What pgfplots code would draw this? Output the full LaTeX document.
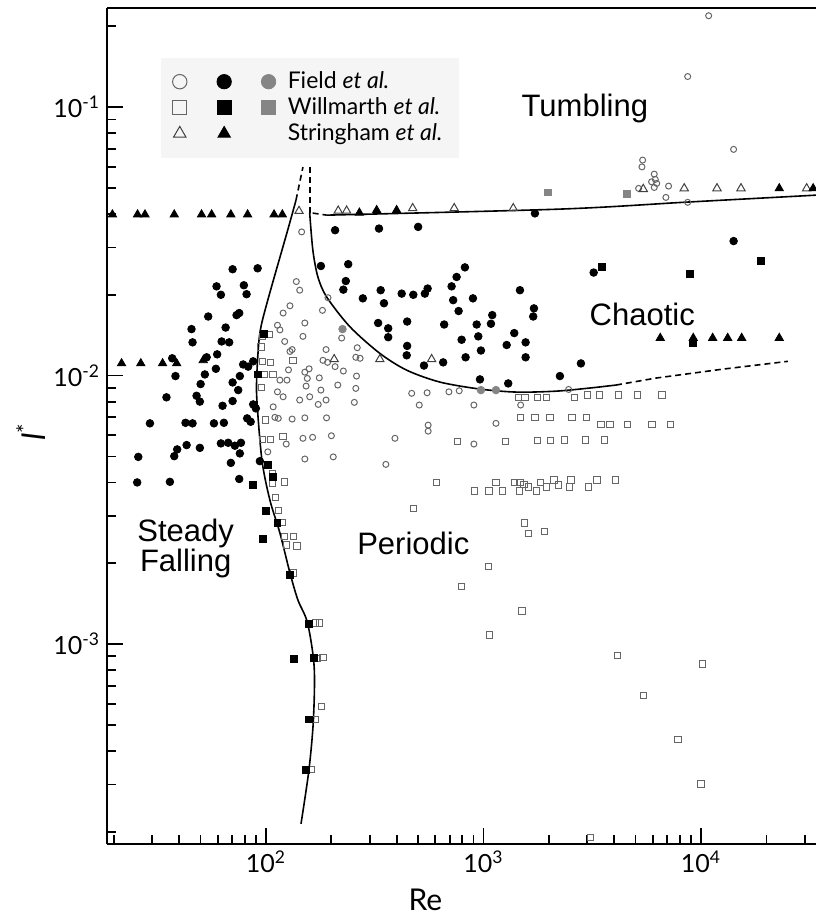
\documentclass[border=0pt]{standalone}
\usepackage{fontspec}
\setmainfont{Lato}
\newfontfamily\helv{Liberation Sans}
\usepackage{pgfplots}
\pgfplotsset{compat=1.18}

\definecolor{opengray}{gray}{0.40}
\definecolor{fillgray}{gray}{0.52}

\begin{document}
\begin{tikzpicture}
\begin{axis}[
    scale only axis,
    width=354.5pt, height=418pt,
    xmode=log, ymode=log,
    xmin=18.6, xmax=33800,
    ymin=1.8e-4, ymax=0.234,
    clip=false,
    axis x line*=bottom, axis y line*=left,
    axis line style={-, line width=1pt},
    tick align=inside,
    major tick length=8pt, minor tick length=4.5pt,
    tick style={black, line width=0.9pt},
    xtick={100,1000,10000},
    xticklabels={10\textsuperscript{2},10\textsuperscript{3},10\textsuperscript{4}},
    minor xtick={20,30,40,50,60,70,80,90,200,300,400,500,600,700,800,900,
        2000,3000,4000,5000,6000,7000,8000,9000,20000,30000},
    ytick={1e-3,1e-2,1e-1},
    yticklabels={10\textsuperscript{-3},10\textsuperscript{-2},10\textsuperscript{-1}},
    minor ytick={2e-4,3e-4,4e-4,5e-4,6e-4,7e-4,8e-4,9e-4,
        2e-3,3e-3,4e-3,5e-3,6e-3,7e-3,8e-3,9e-3,
        2e-2,3e-2,4e-2,5e-2,6e-2,7e-2,8e-2,9e-2,0.2},
    tick label style={font=\fontsize{12.5}{14}\selectfont},
    xlabel={Re},
    ylabel={\textit{l}\textsuperscript{*}},
    every axis x label/.style={at={(rel axis cs:0.449,0)}, yshift=-28pt,
        anchor=center, font=\fontsize{15}{17}\selectfont},
    every axis y label/.style={at={(rel axis cs:0,0.493)}, xshift=-38pt,
        rotate=90, anchor=center, font=\fontsize{16}{18}\selectfont},
    legend columns=3,
    legend image code/.code={\draw[#1, mark size=3.6pt] plot coordinates {(0cm,0cm)};},
    legend style={at={(0.075,0.941)}, anchor=north west,
        draw=none, fill=black!4, inner xsep=6pt, inner ysep=5pt,
        font=\fontsize{11.5}{13}\selectfont,
        nodes={inner sep=2pt},
        row sep=-1pt,
        /tikz/every odd column/.append style={column sep=4pt},
        /tikz/every even column/.append style={column sep=7pt}},
    legend cell align=left,
]

% regime boundaries
\addplot[black, line width=0.8pt, smooth, forget plot] coordinates {
    (145,2.14e-4) (157.7,3.40e-4) (165.3,5.21e-4) (166.7,8.21e-4)
    (155.4,1.197e-3) (140.3,1.46e-3) (129,1.84e-3) (116,2.59e-3)
    (104.3,3.44e-3) (95.9,4.84e-3) (90.9,8.1e-3) (90.9,1.02e-2)
    (93.8,1.44e-2) (102,1.91e-2) (124.9,3.40e-2) (137.5,4.50e-2)
};
\addplot[black, line width=0.8pt, dash pattern=on 3pt off 2pt, forget plot] coordinates {
    (137.5,0.045) (148,0.0598)
};
\addplot[black, line width=0.8pt, dash pattern=on 3pt off 2pt, forget plot] coordinates {
    (159,0.0598) (159,0.0403)
};
\addplot[black, line width=0.8pt, smooth, forget plot] coordinates {
    (159,0.0403) (164.4,0.0293) (173.4,0.0233) (190.5,0.0196) (243.4,0.0152)
    (334,0.0121) (444.6,0.01047) (630.6,0.00946) (963,0.00891) (1426,0.00868)
    (2153,0.00875) (3053,0.00898) (4066,0.00922)
};
\addplot[black, line width=0.8pt, dash pattern=on 3pt off 2pt, forget plot] coordinates {
    (4066,0.00922) (6209,0.00979) (12620,0.01057) (25100,0.0113)
};
\addplot[black, line width=0.8pt, dash pattern=on 3pt off 2pt, forget plot] coordinates {
    (164,0.0403) (190.5,0.0396)
};
\addplot[black, line width=0.8pt, smooth, forget plot] coordinates {
    (190.5,0.0396) (2249,0.0417) (8710,0.0443) (33800,0.047)
};

% Field et al., open
\addplot[only marks, mark=o, mark size=1.5pt, draw=opengray, line width=0.5pt] coordinates {
    (10850,0.219) (8690,0.130) (14130,0.0696) (5395,0.0635) (5355,0.0599)
    (6100,0.0563) (6170,0.0538) (5930,0.0527) (6260,0.0520) (6100,0.0502)
    (7100,0.0508) (5170,0.0498) (6900,0.0461) (8690,0.0442) (146,0.0343)
    (138,0.0224) (143,0.0208) (120,0.0171) (129,0.0182) (113,0.0154)
    (116,0.0148) (122,0.0134) (129,0.0123) (132,0.0125) (127,0.0105)
    (116,0.00962) (125,0.00962) (113,0.0087) (120,0.00834) (108,0.00765)
    (110,0.00699) (114,0.00693) (132,0.00689) (124,0.00556) (102,0.0052)
    (151,0.0157) (148,0.0140) (182,0.0175) (223,0.0138) (189,0.0125)
    (263,0.0127) (183,0.0114) (192,0.0112) (208,0.0108) (227,0.0104)
    (259,0.0117) (271,0.0116) (151,0.0103) (158,0.0106) (155,0.00976)
    (176,0.00981) (153,0.00914) (261,0.00996) (214,0.00922) (179,0.00883)
    (259,0.00896) (159,0.00834) (143,0.00811) (189,0.00811) (174,0.00781)
    (255,0.00795) (151,0.00696) (190,0.00696) (148,0.00584) (164,0.00589)
    (200,0.00597) (151,0.00489) (204,0.00498) (392,0.00584) (356,0.00467)
    (468,0.00859) (551,0.00863) (694,0.0087) (774,0.00878) (507,0.00777)
    (904,0.00777) (557,0.00654) (557,0.00621) (1142,0.00664) (904,0.00556)
    (1483,0.00777) (2464,0.00888) (193,0.0195)
};
\addlegendentry{\mbox{}}

% Field et al., filled
\addplot[only marks, mark=*, mark size=1.9pt, black] coordinates {
    (70.3,0.0249) (91.6,0.0251) (59.3,0.0215) (79.2,0.0217) (62.1,0.0200)
    (81.5,0.0201) (54.3,0.0166) (73.3,0.0168) (75.4,0.0171) (45.5,0.0149)
    (65.3,0.0151) (46.0,0.0133) (62.6,0.0134) (67.8,0.0133) (59.7,0.0120)
    (53.4,0.0117) (37.1,0.0116) (38.4,0.00996) (52.4,0.0101) (58.9,0.0106)
    (78.6,0.0110) (82.9,0.0108) (87.4,0.0113) (75.9,0.00996) (70.3,0.00943)
    (50.1,0.0093) (74.6,0.00883) (34.9,0.0083) (48.0,0.00841) (49.7,0.0080)
    (70.3,0.00804) (63.2,0.00772) (87.4,0.00781) (89.9,0.00755) (29.3,0.00664)
    (42.7,0.00667) (46.0,0.00664) (57.7,0.00664) (64.1,0.00667) (82.0,0.00693)
    (85.1,0.00673) (43.2,0.00551) (39.1,0.00531) (37.9,0.00501) (49.7,0.00538)
    (62.1,0.00559) (67.1,0.00562) (72.0,0.00548) (76.8,0.00562) (75.9,0.00513)
    (25.9,0.00498) (69.0,0.00473) (93.8,0.0048) (25.6,0.0040) (36.2,0.00402)
    (75.4,0.00412) (208,0.0348) (331,0.0353) (501,0.0358) (179,0.0256)
    (239,0.0260) (822,0.0253) (753,0.0233) (233,0.0225) (227,0.0209)
    (279,0.0194) (337,0.0208) (349,0.0186) (421,0.0202) (476,0.0200)
    (554,0.0211) (538,0.0202) (714,0.0215) (726,0.0191) (895,0.0194)
    (1472,0.0208) (1725,0.0402) (328,0.0157) (365,0.0150) (365,0.0139)
    (446,0.0159) (446,0.0129) (444,0.0119) (533,0.0109) (653,0.0112)
    (660,0.0155) (769,0.0174) (931,0.0155) (1083,0.0156) (1098,0.0168)
    (794,0.0136) (947,0.0140) (974,0.0124) (828,0.0117) (1386,0.0144)
    (1279,0.0130) (1563,0.0133) (1563,0.0117) (1707,0.0178) (1694,0.0166)
    (964,0.00968) (1300,0.00935) (2247,0.00996) (2807,0.0111) (14130,0.0317)
    (3212,0.0242)
};
\addlegendentry{\mbox{}}

% Field et al., grey
\addplot[only marks, mark=*, mark size=1.9pt, fillgray] coordinates {
    (225,0.0149) (974,0.00883) (1142,0.00883)
};
\addlegendentry{Field \textit{et al.}}

% Willmarth et al., open
\addplot[only marks, mark=square, mark size=1.6pt, draw=opengray, line width=0.5pt] coordinates {
    (96.6,0.0140) (104,0.0142) (94.9,0.0128) (96.6,0.0113) (105,0.0112)
    (133,0.0114) (97.9,0.0101) (108,0.0101) (95.5,0.00904) (99.7,0.00683)
    (96.6,0.00579) (105,0.00579) (120,0.00592) (107,0.00432) (107,0.00397)
    (122,0.00402) (111,0.00352) (114,0.00314) (119,0.00283) (122,0.00251)
    (134,0.00251) (124,0.00234) (139,0.00232) (134,0.00184) (169,0.00120)
    (176,0.00120) (173,0.000885) (183,0.000892) (180,0.000584) (169,0.000524)
    (161,0.000341) (1507,0.00133) (1066,0.00108) (4145,0.000905) (10160,0.000842)
    (5458,0.000642) (7848,0.000442) (10000,0.000301) (3114,0.00019)
    (1445,0.0083) (1552,0.0083) (1768,0.0083) (1953,0.0083) (1483,0.00699)
    (1725,0.00699) (2022,0.00699) (761,0.00567) (1265,0.00567) (1768,0.00572)
    (2037,0.00572) (609,0.00399) (476,0.0032) (907,0.00372) (1060,0.00372)
    (1142,0.00399) (1220,0.00372) (1386,0.00399) (1472,0.00399) (1536,0.00394)
    (1461,0.00372) (1607,0.00385) (1756,0.00372) (1832,0.00399) (1953,0.00385)
    (2109,0.00408) (2208,0.00391) (1540,0.00282) (1607,0.00258) (1904,0.00262)
    (1052,0.00195) (791,0.00164) (2616,0.0083) (3014,0.00846) (3407,0.00846)
    (4184,0.00846) (5117,0.00846) (6618,0.00846) (2553,0.00699) (2982,0.00699)
    (3469,0.00658) (3815,0.00658) (4603,0.00658) (5951,0.00658) (7226,0.00658)
    (2353,0.00575) (2938,0.00575) (3593,0.00575) (2526,0.00408) (2481,0.00385)
    (3033,0.00385) (3325,0.00408) (4036,0.00408)
};
\addlegendentry{\mbox{}}

% Willmarth et al., filled
\addplot[only marks, mark=square*, mark size=1.7pt, black] coordinates {
    (97.9,0.0143) (92.2,0.0101) (102,0.00464) (108,0.0042) (86.9,0.00393)
    (100,0.00313) (113,0.00282) (97.2,0.00246) (129,0.00181) (157,0.00119)
    (134,0.000879) (166,0.00089) (157,0.000524) (153,0.000341) (3494,0.0254)
    (8932,0.0239) (18870,0.0267) (9218,0.0132)
};
\addlegendentry{\mbox{}}

% Willmarth et al., grey
\addplot[only marks, mark=square*, mark size=1.7pt, fillgray] coordinates {
    (1986,0.0481) (4569,0.0474)
};
\addlegendentry{Willmarth \textit{et al.}}

% Stringham et al., open
\addplot[only marks, mark=triangle, mark size=2.4pt, draw=black!75, line width=0.5pt] coordinates {
    (142,0.0410) (215,0.0411) (235,0.0411) (473,0.0420) (734,0.0420)
    (1371,0.0420) (5429,0.0495) (8378,0.0498) (11850,0.0498) (15280,0.0498)
    (30620,0.0498) (206,0.0115) (334,0.0115) (578,0.0115)
};
\addlegendentry{\mbox{}}

% Stringham et al., filled
\addplot[only marks, mark=triangle*, mark size=2.4pt, black] coordinates {
    (19.7,0.0398) (25.7,0.0398) (27.8,0.0398) (37.9,0.0398) (50.6,0.0398)
    (56.3,0.0398) (69.0,0.0398) (82.4,0.0398) (109,0.0398) (119,0.0398)
    (269,0.0404) (323,0.0413) (399,0.0413) (22910,0.0498) (32800,0.0498)
    (21.7,0.0111) (26.6,0.0111) (33.5,0.0111) (38.9,0.0111) (51.5,0.0114)
    (6501,0.0138) (9218,0.0138) (11320,0.0138) (13270,0.0138) (15390,0.0138)
    (22910,0.0138)
};
\addlegendentry{\mbox{}}

\addlegendimage{empty legend}
\addlegendentry{Stringham \textit{et al.}}

% regime names
\node[font=\helv\fontsize{15.5}{17}\selectfont] at (rel axis cs:0.674,0.880) {Tumbling};
\node[font=\helv\fontsize{15.5}{17}\selectfont] at (rel axis cs:0.755,0.634) {Chaotic};
\node[font=\helv\fontsize{15.5}{17}\selectfont] at (rel axis cs:0.432,0.359) {Periodic};
\node[font=\helv\fontsize{15.5}{17}\selectfont, align=center, inner sep=0pt]
    at (rel axis cs:0.111,0.353) {Steady\\[-2pt]Falling};

\draw[line width=1pt] (rel axis cs:0,1) -- (rel axis cs:1,1);
\end{axis}
\pgfresetboundingbox
\path[use as bounding box] ([xshift=-53.5pt,yshift=-36pt]current axis.south west)
    rectangle ([yshift=4pt]current axis.north east);
\end{tikzpicture}
\end{document}
